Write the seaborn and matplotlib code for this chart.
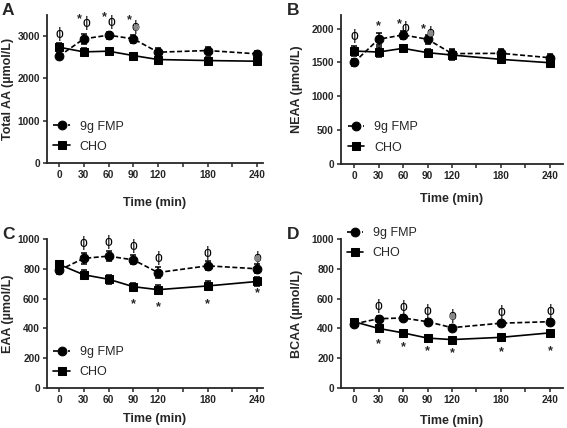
import matplotlib
matplotlib.use("Agg")
import matplotlib.pyplot as plt
import seaborn as sns
import numpy as np
import pandas as pd

sns.set_style("ticks")
plt.rcParams['font.family'] = ['Liberation Sans', 'DejaVu Sans']

times = [0, 30, 60, 90, 120, 180, 240]
xticks = [0, 30, 60, 90, 120, 150, 180, 210, 240]
xticklabels = ["0", "30", "60", "90", "120", "", "180", "", "240"]

# Panel A - Total AA
fmp_A = [2526, 2936, 3023, 2936, 2620, 2660, 2581]
fmp_A_err = [70, 110, 80, 90, 100, 80, 70]
cho_A = [2739, 2628, 2644, 2541, 2447, 2423, 2407]
cho_A_err = [90, 90, 70, 70, 110, 90, 80]
# Panel B - NEAA
fmp_B = [1500, 1842, 1906, 1842, 1630, 1634, 1569]
fmp_B_err = [50, 90, 60, 70, 70, 60, 50]
cho_B = [1668, 1653, 1708, 1644, 1609, 1545, 1495]
cho_B_err = [70, 80, 50, 50, 70, 60, 60]
# Panel C - EAA
fmp_C = [790, 870, 885, 860, 775, 820, 800]
fmp_C_err = [25, 35, 35, 30, 35, 30, 30]
cho_C = [830, 760, 730, 680, 660, 685, 715]
cho_C_err = [25, 30, 30, 25, 30, 30, 30]
# Panel D - BCAA
fmp_D = [430, 465, 470, 445, 405, 435, 445]
fmp_D_err = [15, 20, 20, 18, 18, 18, 18]
cho_D = [445, 400, 370, 335, 325, 340, 370]
cho_D_err = [15, 18, 15, 15, 12, 12, 15]

panels = [
    dict(letter="A", ylabel="Total AA (\u00b5mol/L)", fmp=fmp_A, fe=fmp_A_err, cho=cho_A, ce=cho_A_err,
         ylim=3500, yticks=[0, 1000, 2000, 3000],
         phi=[(0, 3050, 'k'), (33, 3300, 'k'), (63, 3340, 'k'), (93, 3220, 'grey')],
         stars=[(25, 3400), (55, 3440), (85, 3380)]),
    dict(letter="B", ylabel="NEAA (\u00b5mol/L)", fmp=fmp_B, fe=fmp_B_err, cho=cho_B, ce=cho_B_err,
         ylim=2200, yticks=[0, 500, 1000, 1500, 2000],
         phi=[(0, 1890, 'k'), (63, 2005, 'k'), (93, 1935, 'grey')],
         stars=[(30, 2030), (55, 2060), (85, 1990)]),
    dict(letter="C", ylabel="EAA (\u00b5mol/L)", fmp=fmp_C, fe=fmp_C_err, cho=cho_C, ce=cho_C_err,
         ylim=1000, yticks=[0, 200, 400, 600, 800, 1000],
         phi=[(30, 975, 'k'), (60, 980, 'k'), (90, 950, 'k'), (120, 875, 'k'), (180, 905, 'k'), (240, 875, 'grey')],
         stars=[(90, 560), (120, 545), (180, 560), (240, 635)]),
    dict(letter="D", ylabel="BCAA (\u00b5mol/L)", fmp=fmp_D, fe=fmp_D_err, cho=cho_D, ce=cho_D_err,
         ylim=1000, yticks=[0, 200, 400, 600, 800, 1000],
         phi=[(30, 548, 'k'), (60, 545, 'k'), (90, 515, 'k'), (120, 480, 'grey'), (180, 510, 'k'), (240, 520, 'k')],
         stars=[(30, 295), (60, 275), (90, 245), (120, 235), (180, 240), (240, 245)]),
]

fig = plt.figure(figsize=(5.67, 4.28), dpi=100)
boxes = [
    (47/567, 1-163/428, 216/567, 148/428),
    (341/567, 1-164/428, 222/567, 149/428),
    (47/567, 1-388/428, 216/567, 149/428),
    (341/567, 1-388/428, 222/567, 149/428),
]
xlims = [(-14.5, 247), (-16, 256), (-14.5, 247), (-16, 256)]
legpos = [("lower left", (0.03, 0.07)), ("lower left", (0.03, 0.07)),
          ("lower left", (0.03, 0.065)), ("upper left", (0.025, 1.08))]
xlabelpads = [12, 9, 6, 7]
ylabelx = [-0.153, -0.171, -0.153, -0.171]

for p, box, xl, lp, xlp, ylx in zip(panels, boxes, xlims, legpos, xlabelpads, ylabelx):
    ax = fig.add_axes(box)
    df = pd.DataFrame({
        "Time": times * 2,
        "val": p["fmp"] + p["cho"],
        "group": ["9g FMP"] * 7 + ["CHO"] * 7,
    })
    ax.errorbar(times, p["fmp"], yerr=p["fe"], fmt='none', ecolor='black', elinewidth=1.1, capsize=2.5, capthick=1.1, zorder=2)
    ax.errorbar(times, p["cho"], yerr=p["ce"], fmt='none', ecolor='black', elinewidth=1.1, capsize=2.5, capthick=1.1, zorder=2)
    sns.lineplot(data=df, x="Time", y="val", hue="group", style="group",
                 palette={"9g FMP": "black", "CHO": "black"},
                 dashes={"9g FMP": (3, 1.5), "CHO": ""},
                 markers={"9g FMP": "o", "CHO": "s"},
                 markersize=6.3, linewidth=1.2, markeredgecolor='black',
                 ax=ax, legend=True, zorder=3)
    ax.set_xlim(*xl)
    ax.set_ylim(0, p["ylim"])
    ax.set_xticks(xticks)
    ax.set_xticklabels(xticklabels)
    ax.set_yticks(p["yticks"])
    ax.tick_params(axis='both', labelsize=7.3, width=1.1, length=3, pad=2)
    for lab in ax.get_xticklabels() + ax.get_yticklabels():
        lab.set_fontweight('bold')
    for s in ['left', 'bottom']:
        ax.spines[s].set_linewidth(1.3)
    sns.despine(ax=ax)
    ax.set_xlabel("Time (min)", fontsize=9, fontweight='bold', labelpad=xlp)
    ax.set_ylabel(p["ylabel"], fontsize=9, fontweight='bold')
    ax.yaxis.set_label_coords(ylx, 0.5)
    handles, labels = ax.get_legend_handles_labels()
    ax.legend(handles, labels, loc=lp[0], bbox_to_anchor=lp[1], frameon=False, fontsize=9,
              handlelength=1.3, handletextpad=0.8, borderaxespad=0, borderpad=0, labelspacing=0.65)
    for (x, y, c) in p["phi"]:
        ax.text(x, y, "\u03d5", ha='center', va='center', fontsize=10, color='black')
        if c == 'grey':
            ax.plot([x], [y], marker='o', markersize=4.5, color='#888888', markeredgewidth=0, zorder=5)
    for (x, y) in p["stars"]:
        ax.text(x, y, "*", ha='center', va='center', fontsize=9, fontweight='bold')
    fig.text(2/567 if p["letter"] in "AC" else 287/567, box[1] + box[3] + 0.01,
             p["letter"], fontsize=12.5, fontweight='bold', ha='left', va='center')

fig.savefig("out.png", dpi=100)
